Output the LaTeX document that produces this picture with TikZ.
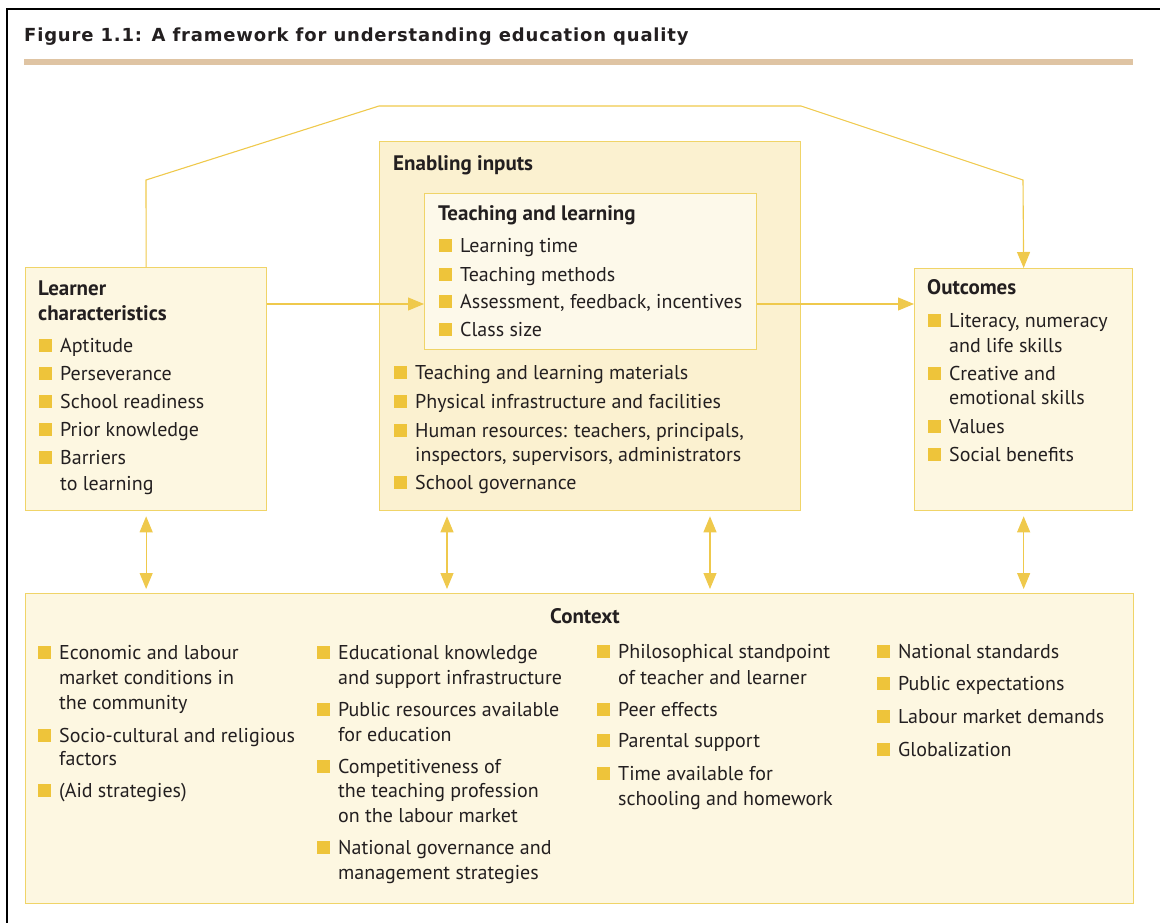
\documentclass[tikz,border=0pt]{standalone}
\usepackage{fontspec}
\setmainfont{PT Sans}
\newfontfamily\titlefont[LetterSpace=4.5]{DejaVu Sans Bold}
\usetikzlibrary{arrows.meta}
\definecolor{cream}{HTML}{FDF7E1}
\definecolor{creamdk}{HTML}{FBF1D0}
\definecolor{creamlt}{HTML}{FDF9EA}
\definecolor{ybord}{HTML}{F0D468}
\definecolor{ybul}{HTML}{EEC43A}
\definecolor{yarr}{HTML}{EFC94C}
\definecolor{tanrule}{HTML}{DFC4A3}
\definecolor{ink}{HTML}{231F20}
\newcommand{\bl}[4]{\node[sq] (#1-b) at ({#2-15},{#3-6.5}) {};\node[txt] (#1) at (#2,#3) {#4};}
\newcommand{\cl}[4]{\node[txt] (#1) at (#2,#3) {#4};}
\begin{document}
\begin{tikzpicture}[x=1pt,y=-1pt,
  box/.style={draw=ybord, line width=1.3pt, fill=cream, inner sep=0, anchor=north west},
  sq/.style={fill=ybul, minimum size=13pt, inner sep=0},
  txt/.style={anchor=base west, inner sep=0, text=ink, font=\fontsize{20}{24}\selectfont},
  hd/.style={anchor=base west, inner sep=0, text=ink, font=\fontsize{21}{24}\selectfont\bfseries},
  conn/.style={draw=yarr, line width=1.1pt, -{Triangle[length=16pt,width=13pt]}},
  both/.style={draw=yarr, line width=1.1pt, {Triangle[length=16pt,width=13pt]}-{Triangle[length=16pt,width=13pt]}}]
\useasboundingbox (0,0) rectangle (1160,922);
% frame and title
\draw[line width=2pt, black] (7,940) -- (7,9) -- (1175,9);
\node[anchor=base west, inner sep=0, text=ink, font=\fontsize{18}{24}\selectfont\titlefont] (title) at (24,41) {Figure 1.1: A framework for understanding education quality};
\fill[tanrule] (24,59) rectangle (1133,65);
% boxes
\node[box, minimum width=241pt, minimum height=243pt] (lc) at (25,267) {};
\node[box, minimum width=421pt, minimum height=369pt, fill=creamdk] (ei) at (379,141) {};
\node[box, minimum width=332pt, minimum height=156pt, fill=creamlt] (tl) at (424,193) {};
\node[box, minimum width=218pt, minimum height=242pt] (oc) at (914,268) {};
\node[box, minimum width=1108pt, minimum height=310pt] (ctx) at (25,593) {};
% connectors
\coordinate (k1) at (146,180);
\coordinate (k2) at (379,106);
\coordinate (k3) at (801,106);
\coordinate (k4) at (1023,180);
\draw[conn] (lc.north) -- (k1) -- (k2) -- (k3) -- (k4) -- (oc.north);
\coordinate (hy) at (0,304);
\draw[conn] (lc.east |- hy) -- (tl.west |- hy);
\draw[conn] (tl.east |- hy) -- (oc.west |- hy);
\coordinate (v1) at (447,0);
\coordinate (v2) at (710,0);
\draw[both] ([yshift=-5pt]lc.south) -- ([yshift=4pt]lc.south |- ctx.north);
\draw[both] ([yshift=-5pt]v1 |- ei.south) -- ([yshift=4pt]v1 |- ctx.north);
\draw[both] ([yshift=-5pt]v2 |- ei.south) -- ([yshift=4pt]v2 |- ctx.north);
\draw[both] ([yshift=-5pt]oc.south) -- ([yshift=4pt]oc.south |- ctx.north);
% learner characteristics
\node[hd] (lch1) at (38,295) {Learner};
\node[hd] (lch2) at (38,320) {characteristics};
\bl{l1}{60}{352}{Aptitude}
\bl{l2}{60}{380}{Perseverance}
\bl{l3}{60}{408}{School readiness}
\bl{l4}{60}{436}{Prior knowledge}
\bl{l5}{60}{464}{Barriers}
\cl{l5c}{60}{490}{to learning}
% enabling inputs
\node[hd] (eih) at (393,170) {Enabling inputs};
\node[hd] (tlh) at (438,220) {Teaching and learning};
\bl{t1}{460}{252}{Learning time}
\bl{t2}{460}{281}{Teaching methods}
\bl{t3}{460}{308}{Assessment, feedback, incentives}
\bl{t4}{460}{336}{Class size}
\bl{e1}{415}{379}{Teaching and learning materials}
\bl{e2}{415}{408}{Physical infrastructure and facilities}
\bl{e3}{415}{437}{Human resources: teachers, principals,}
\cl{e3c}{415}{461}{inspectors, supervisors, administrators}
\bl{e4}{415}{489}{School governance}
% outcomes
\node[hd] (och) at (927,294) {Outcomes};
\bl{o1}{949}{327}{Literacy, numeracy}
\cl{o1c}{949}{352}{and life skills}
\bl{o2}{949}{380}{Creative and}
\cl{o2c}{949}{404}{emotional skills}
\bl{o3}{949}{433}{Values}
\bl{o4}{949}{461}{Social benefits}
% context
\node[hd, anchor=base] (cth) at (585,623) {Context};
\bl{c1}{59}{659}{Economic and labour}
\cl{c1c}{59}{684}{market conditions in}
\cl{c1d}{59}{709}{the community}
\bl{c2}{59}{742}{Socio-cultural and religious}
\cl{c2c}{59}{765}{factors}
\bl{c3}{59}{797}{(Aid strategies)}
\bl{d1}{338}{659}{Educational knowledge}
\cl{d1c}{338}{684}{and support infrastructure}
\bl{d2}{338}{716}{Public resources available}
\cl{d2c}{338}{741}{for education}
\bl{d3}{338}{773}{Competitiveness of}
\cl{d3c}{338}{797}{the teaching profession}
\cl{d3d}{338}{822}{on the labour market}
\bl{d4}{338}{854}{National governance and}
\cl{d4c}{338}{879}{management strategies}
\bl{f1}{618}{658}{Philosophical standpoint}
\cl{f1c}{618}{684}{of teacher and learner}
\bl{f2}{618}{716}{Peer effects}
\bl{f3}{618}{747}{Parental support}
\bl{f4}{618}{780}{Time available for}
\cl{f4c}{618}{805}{schooling and homework}
\bl{g1}{898}{658}{National standards}
\bl{g2}{898}{690}{Public expectations}
\bl{g3}{898}{723}{Labour market demands}
\bl{g4}{898}{756}{Globalization}
\end{tikzpicture}
\end{document}
